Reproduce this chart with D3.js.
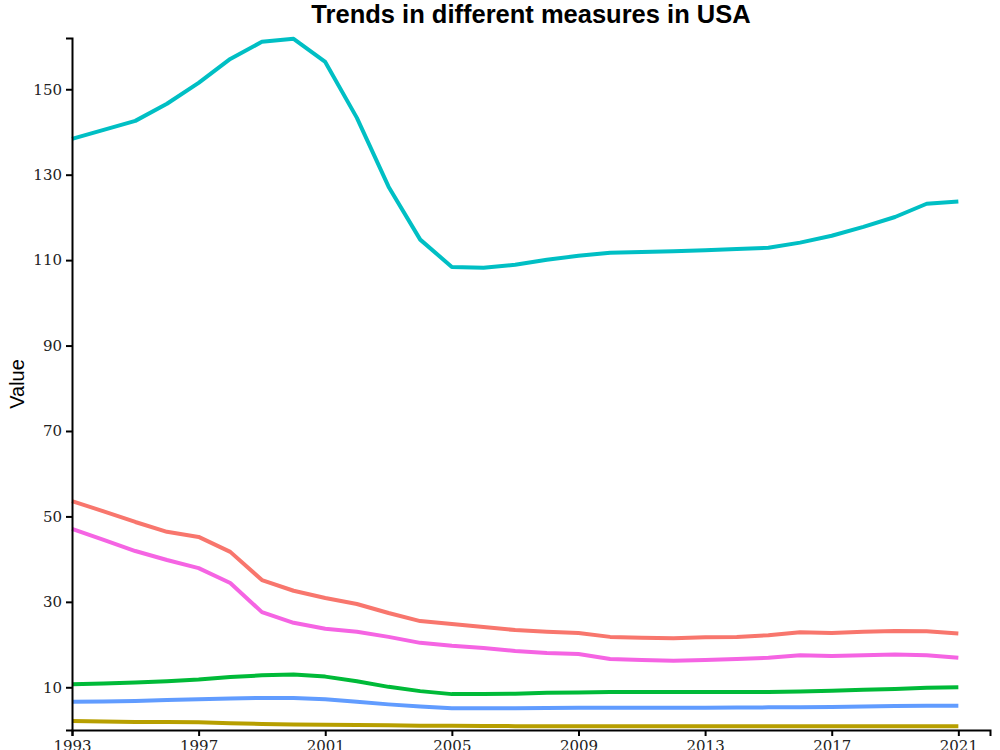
<!DOCTYPE html>
<html>
<head>
<meta charset="utf-8">
<script src="https://cdn.jsdelivr.net/npm/d3@7"></script>
<style>
  body { margin: 0; background: #fff; }
  .tick text { font-family: "DejaVu Serif", serif; font-size: 15px; fill: #222; }
</style>
</head>
<body>
<svg></svg>
<script>
let years = d3.range(1993, 2022);

// series values, one per year 1993..2021
let seriesRed = [53.6, 51.2, 48.7, 46.4, 45.2, 41.7, 35.1, 32.6, 30.9, 29.5, 27.4, 25.5, 24.8, 24.1, 23.4, 23.0, 22.7, 21.8, 21.6, 21.5, 21.7, 21.8, 22.2, 22.9, 22.7, 23.0, 23.2, 23.1, 22.6];
let seriesOlive = [2.1, 2.0, 1.9, 1.85, 1.8, 1.6, 1.4, 1.3, 1.2, 1.15, 1.1, 1.0, 1.0, 0.95, 0.9, 0.9, 0.9, 0.9, 0.9, 0.9, 0.9, 0.9, 0.9, 0.9, 0.9, 0.9, 0.9, 0.9, 0.9];
let seriesGreen = [10.7, 10.9, 11.1, 11.4, 11.8, 12.4, 12.8, 13.0, 12.5, 11.4, 10.1, 9.1, 8.4, 8.4, 8.5, 8.7, 8.8, 8.9, 8.9, 8.9, 8.9, 8.9, 8.9, 9.0, 9.2, 9.4, 9.6, 9.9, 10.0];
let seriesCyan = [138.4, 140.5, 142.6, 146.6, 151.5, 157.1, 161.1, 161.8, 156.4, 143.3, 127.2, 114.8, 108.4, 108.2, 108.9, 110.1, 111.0, 111.7, 111.9, 112.1, 112.3, 112.6, 112.9, 114.1, 115.7, 117.8, 120.1, 123.2, 123.7];
let seriesBlue = [6.6, 6.7, 6.8, 7.0, 7.2, 7.4, 7.5, 7.5, 7.2, 6.6, 6.0, 5.5, 5.1, 5.1, 5.1, 5.15, 5.2, 5.2, 5.2, 5.2, 5.2, 5.25, 5.3, 5.35, 5.4, 5.5, 5.6, 5.7, 5.7];
let seriesMagenta = [47.1, 44.5, 41.9, 39.8, 37.9, 34.4, 27.6, 25.1, 23.7, 23.0, 21.8, 20.4, 19.7, 19.2, 18.5, 18.0, 17.8, 16.6, 16.4, 16.2, 16.4, 16.6, 16.9, 17.5, 17.3, 17.5, 17.7, 17.5, 16.9];

let colors = ["#F8766D", "#B79F00", "#00BA38", "#00BFC4", "#619CFF", "#F564E3"];
let allSeries = [seriesRed, seriesOlive, seriesGreen, seriesCyan, seriesBlue, seriesMagenta];
let xTicks = [1993, 1997, 2001, 2005, 2009, 2013, 2017, 2021];
let yTicks = [10, 30, 50, 70, 90, 110, 130, 150];

let width = 1000;
let height = 750;
let margin = { left: 72, right: 10, top: 38, bottom: 20 };

let svg = d3.select("svg").attr("width", width).attr("height", height);

let xScale = d3.scaleLinear()
  .domain([1993, 2022])
  .range([margin.left, width - margin.right]);

let yScale = d3.scaleLinear()
  .domain([0, 162])
  .range([height - margin.bottom, margin.top]);

let line = d3.line()
  .x((d, i) => xScale(years[i]))
  .y((d) => yScale(d));

svg.selectAll("path.series")
  .data(allSeries)
  .enter()
  .append("path")
  .attr("class", "series")
  .attr("d", (d) => line(d))
  .attr("fill", "none")
  .attr("stroke", (d, i) => colors[i])
  .attr("stroke-width", 4)
  .attr("stroke-linejoin", "round");

let xAxis = d3.axisBottom(xScale)
  .tickValues(xTicks)
  .tickFormat(d3.format("d"))
  .tickSizeOuter(0)
  .tickSize(6);

let yAxis = d3.axisLeft(yScale)
  .tickValues(yTicks)
  .tickSizeOuter(0)
  .tickSize(6);

svg.append("g")
  .attr("transform", "translate(0," + (height - margin.bottom) + ")")
  .call(xAxis)
  .call((g) => g.selectAll("line, path").attr("stroke", "#000").attr("stroke-width", 2))
  .call((g) => g.selectAll("text").attr("dy", "0.9em").attr("y", 7));

svg.append("g")
  .attr("transform", "translate(" + margin.left + ",0)")
  .call(yAxis)
  .call((g) => g.selectAll("line, path").attr("stroke", "#000").attr("stroke-width", 2))
  .call((g) => g.selectAll("text").attr("x", -10));

svg.append("text")
  .attr("x", (margin.left + width - margin.right) / 2)
  .attr("y", 23)
  .attr("text-anchor", "middle")
  .style("font-family", "Liberation Sans, Arial, sans-serif")
  .style("font-weight", "bold")
  .style("font-size", "25.5px")
  .text("Trends in different measures in USA");

svg.append("text")
  .attr("transform", "translate(24," + (yScale(81)) + ") rotate(-90)")
  .attr("text-anchor", "middle")
  .style("font-family", "Liberation Sans, Arial, sans-serif")
  .style("font-size", "20px")
  .text("Value");
</script>
</body>
</html>
